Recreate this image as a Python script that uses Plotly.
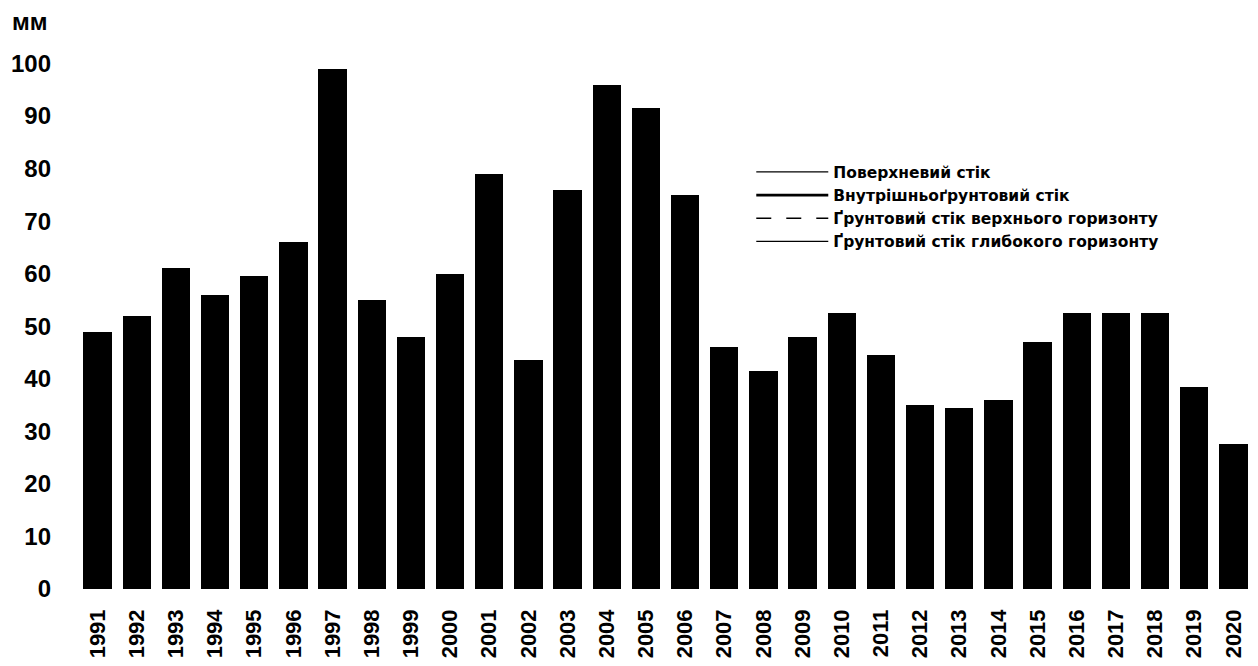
import plotly.graph_objects as go

years = [str(y) for y in range(1991, 2021)]

# Stacked components (mm) (bars are printed all black)
surface = [1.0, 0.5, 0.8, 0.6, 0.7, 0.9, 2.5, 0.8, 0.6, 0.9, 1.7, 1.7, 1.5, 2.2, 2.0,
           1.2, 0.6, 0.5, 0.6, 0.8, 0.6, 0.4, 0.4, 0.5, 0.7, 1.5, 2.0, 2.0, 0.6, 0.4]
interflow = [9.0, 8.5, 10.0, 9.5, 10.0, 11.0, 18.0, 9.5, 8.0, 10.5, 16.0, 7.5, 17.0, 22.0, 20.0,
             15.0, 8.0, 7.0, 8.5, 9.5, 7.5, 6.0, 6.0, 6.5, 8.5, 10.0, 10.0, 10.0, 7.0, 5.0]
upper_gw = [20.0, 10.5, 14.0, 14.0, 14.0, 17.7, 19.5, 26.0, 13.4, 16.6, 18.3, 16.8, 10.2, 15.8, 16.0,
            20.3, 21.4, 14.5, 15.9, 14.4, 13.3, 10.6, 11.0, 10.5, 9.3, 14.5, 14.6, 14.0, 9.8, 9.3]
deep_gw = [19.0, 32.5, 36.2, 31.9, 34.8, 36.4, 59.0, 18.7, 26.0, 32.0, 43.0, 17.5, 47.3, 56.0, 53.5,
           38.5, 16.0, 19.5, 23.0, 27.8, 23.1, 18.0, 17.1, 18.5, 28.5, 26.5, 25.9, 26.5, 21.1, 12.8]

names = ["Поверхневий стік", "Внутрішньоґрунтовий стік",
         "Ґрунтовий стік верхнього горизонту", "Ґрунтовий стік глибокого горизонту"]
series = [surface, interflow, upper_gw, deep_gw]
y_ticks = list(range(0, 101, 10))

FONT = "Liberation Sans"

fig = go.Figure()
for name, vals in zip(names, series):
    fig.add_trace(go.Bar(x=years, y=vals, name=name,
                         marker=dict(color="black", line=dict(width=0)),
                         showlegend=False))

legend_styles = [dict(width=1.2, dash="solid"), dict(width=2.8, dash="solid"),
                 dict(width=1.6, dash="longdash"), dict(width=1.2, dash="solid")]
for name, st in zip(names, legend_styles):
    fig.add_trace(go.Scatter(x=[None], y=[None], mode="lines", name=name,
                             line=dict(color="black", **st), showlegend=True))

fig.update_layout(
    width=1250, height=658,
    barmode="stack", bargap=0.28,
    plot_bgcolor="white", paper_bgcolor="white",
    margin=dict(l=70, r=5, t=45, b=77),
    font=dict(family=FONT, color="black"),
    legend=dict(x=0.573, y=0.809, xanchor="left", yanchor="top", traceorder="normal",
                font=dict(family="DejaVu Sans", size=15.5, weight="bold"),
                itemwidth=72, tracegroupgap=0, bgcolor="rgba(0,0,0,0)"),
    xaxis=dict(type="category", range=[-0.5, 29.5], tickangle=-90, automargin=False,
               tickfont=dict(family=FONT, size=22, weight="bold"),
               showline=False, showgrid=False, ticks="", ticklabelstandoff=15),
    yaxis=dict(range=[0, 102], tickvals=y_ticks, showgrid=False, zeroline=False,
               showline=False, ticks="", ticklabelstandoff=26, automargin=False,
               tickfont=dict(family=FONT, size=24, weight="bold")),
    annotations=[dict(text="мм", xref="paper", yref="paper", x=-0.0579, y=1.058,
                      xanchor="left", yanchor="middle", showarrow=False,
                      font=dict(family=FONT, size=24, weight="bold"))],
)

fig.write_html("out.html")
